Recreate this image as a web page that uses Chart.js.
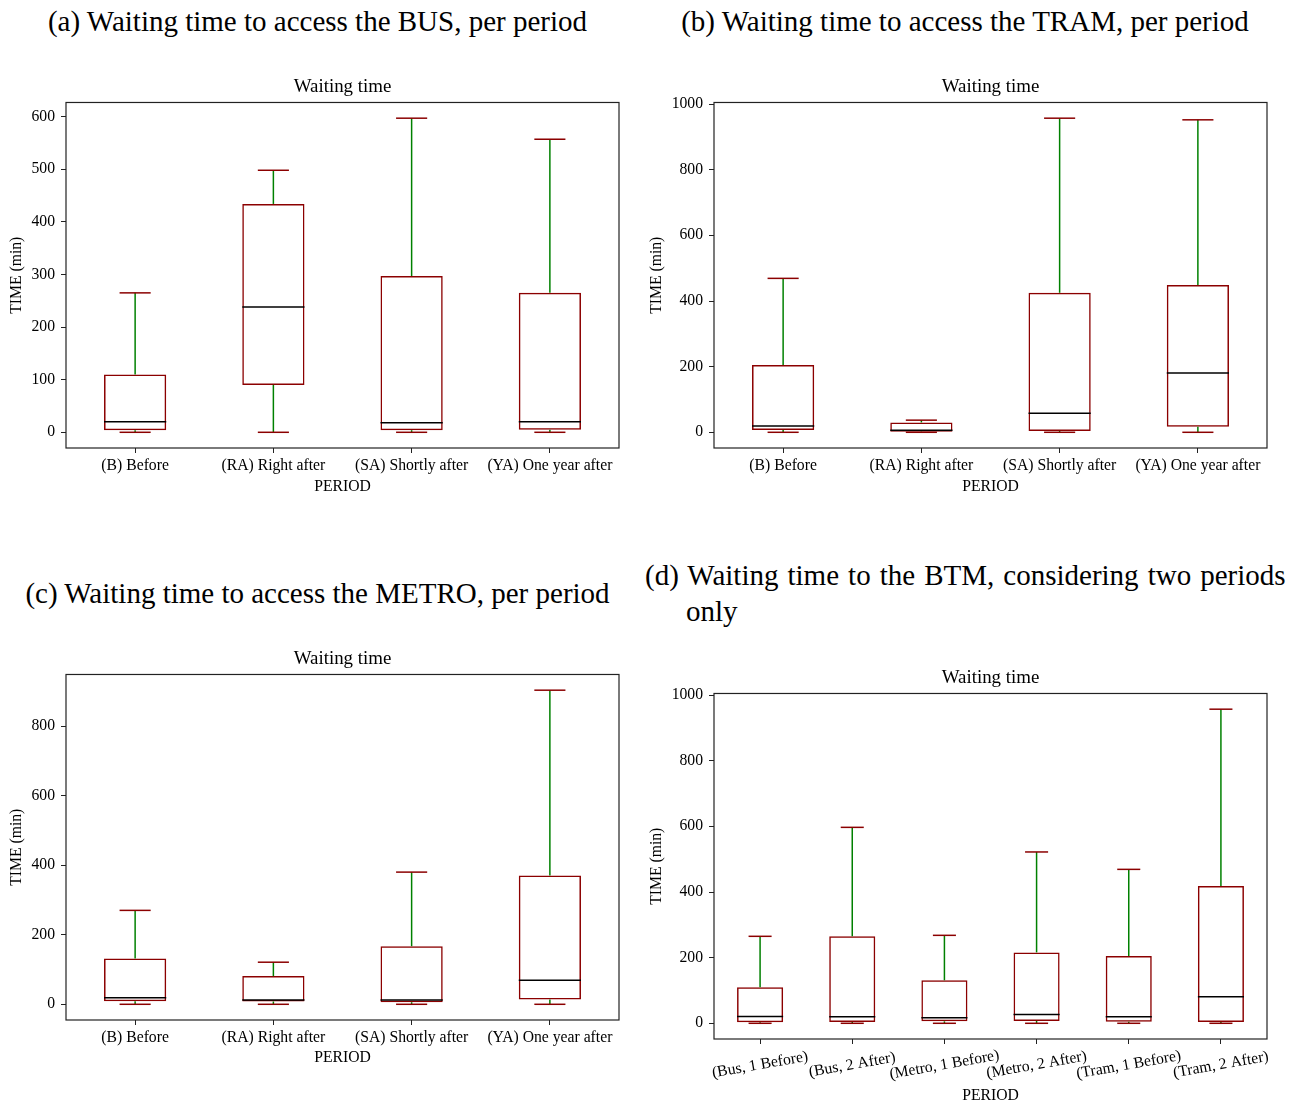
<!DOCTYPE html>
<html>
<head>
<meta charset="utf-8">
<script src="https://cdn.jsdelivr.net/npm/chart.js@4.4.1/dist/chart.umd.min.js"></script>
<style>
  body { margin: 0; background: #fff; width: 1297px; height: 1104px; position: relative; overflow: hidden;
         font-family: 'Liberation Serif', 'Times New Roman', serif; }
  .cap { position: absolute; font-size: 29px; line-height: 36px; white-space: nowrap; color: #000; }
  canvas { position: absolute; }
</style>
</head>
<body>
<div class="cap" style="left:0;width:635px;text-align:center;top:3px">(a) Waiting time to access the BUS, per period</div>
<div class="cap" style="left:640px;width:650px;text-align:center;top:3px">(b) Waiting time to access the TRAM, per period</div>
<div class="cap" style="left:0;width:635px;text-align:center;top:575px">(c) Waiting time to access the METRO, per period</div>
<div class="cap" style="left:645px;top:557px"><span style="word-spacing:1.8px">(d) Waiting time to the BTM, considering two periods</span><br><span style="padding-left:41px">only</span></div>

<canvas id="chart-bus" width="640" height="450" style="left:0;top:60px"></canvas>
<canvas id="chart-tram" width="657" height="450" style="left:640px;top:60px"></canvas>
<canvas id="chart-metro" width="640" height="450" style="left:0;top:632px"></canvas>
<canvas id="chart-btm" width="657" height="453" style="left:640px;top:651px"></canvas>

<script>
// categories
const periodLabels = ['(B) Before', '(RA) Right after', '(SA) Shortly after', '(YA) One year after'];
const btmLabels = ['(Bus, 1 Before)', '(Bus, 2 After)', '(Metro, 1 Before)', '(Metro, 2 After)', '(Tram, 1 Before)', '(Tram, 2 After)'];

// (a) bus
const busLow = [0, 0, 0, 0];
const busQ1 = [4, 90, 4, 5];
const busMed = [20, 238, 18, 20];
const busQ3 = [110, 434, 297, 265];
const busHigh = [265, 498, 597, 557];

// (b) tram
const tramLow = [0, 0, 0, 0];
const tramQ1 = [7, 2, 4, 17];
const tramMed = [19, 6, 58, 181];
const tramQ3 = [205, 30, 425, 449];
const tramHigh = [469, 37, 957, 952];

// (c) metro
const metroLow = [0, 0, 0, 0];
const metroQ1 = [9, 8, 6, 14];
const metroMed = [19, 12, 12, 69];
const metroQ3 = [132, 81, 167, 370];
const metroHigh = [270, 121, 380, 903];

// (d) BTM, two periods
const btmLow = [0, 0, 0, 0, 0, 0];
const btmQ1 = [3, 4, 6, 7, 5, 4];
const btmMed = [21, 20, 17, 27, 20, 81];
const btmQ3 = [110, 265, 131, 216, 205, 418];
const btmHigh = [265, 597, 268, 522, 469, 957];

// tick labels
const busTicks = [0, 100, 200, 300, 400, 500, 600];
const tramTicks = [0, 200, 400, 600, 800, 1000];
const metroTicks = [0, 200, 400, 600, 800];
const btmTicks = [0, 200, 400, 600, 800, 1000];

const FONT = "'Liberation Serif', 'Times New Roman', serif";
const DARKRED = '#8b0000';
const GREEN = '#008000';
Chart.defaults.font.family = FONT;
Chart.defaults.font.size = 15.7;
Chart.defaults.color = '#000';

// whiskers, caps and medians on top of the floating bars
const boxWhiskers = {
  id: 'boxWhiskers',
  afterDatasetsDraw(chart) {
    const ds = chart.data.datasets[0];
    const y = chart.scales.y;
    const ctx = chart.ctx;
    const seg = (x1, y1, x2, y2) => { ctx.beginPath(); ctx.moveTo(x1, y1); ctx.lineTo(x2, y2); ctx.stroke(); };
    ctx.save();
    ctx.lineWidth = 1.5;
    chart.getDatasetMeta(0).data.forEach((bar, i) => {
      const {x, width} = bar.getProps(['x', 'width'], true);
      const pLow = y.getPixelForValue(ds.lows[i]);
      const pQ1 = y.getPixelForValue(ds.data[i][0]);
      const pQ3 = y.getPixelForValue(ds.data[i][1]);
      const pHigh = y.getPixelForValue(ds.highs[i]);
      const pMed = y.getPixelForValue(ds.medians[i]);
      ctx.strokeStyle = GREEN;
      seg(x, pQ1, x, pLow);
      seg(x, pQ3, x, pHigh);
      ctx.strokeStyle = DARKRED;
      seg(x - width / 4, pLow, x + width / 4, pLow);
      seg(x - width / 4, pHigh, x + width / 4, pHigh);
      ctx.strokeStyle = '#000';
      seg(x - width / 2, pMed, x + width / 2, pMed);
    });
    ctx.restore();
  }
};

// full box round the plot area
const frame = {
  id: 'frame',
  afterDatasetsDraw(chart) {
    const a = chart.chartArea;
    const ctx = chart.ctx;
    ctx.save();
    ctx.strokeStyle = '#222';
    ctx.lineWidth = 1.2;
    ctx.strokeRect(a.left, a.top, a.right - a.left, a.bottom - a.top);
    ctx.restore();
  }
};

// centred, slanted category labels (panel d)
const slantedLabels = {
  id: 'slantedLabels',
  afterDraw(chart, args, opts) {
    const xs = chart.scales.x;
    const ctx = chart.ctx;
    ctx.save();
    ctx.font = opts.size + 'px ' + FONT;
    ctx.fillStyle = '#000';
    ctx.textAlign = 'center';
    ctx.textBaseline = 'middle';
    chart.data.labels.forEach((lab, i) => {
      ctx.save();
      ctx.translate(xs.getPixelForTick(i), xs.top + opts.offset);
      ctx.rotate(-opts.angle * Math.PI / 180);
      ctx.fillText(lab, 0, 0);
      ctx.restore();
    });
    ctx.restore();
  }
};

function makeBoxChart(id, labels, lows, q1s, meds, q3s, highs, tickVals, o) {
  const lo = Math.min(...lows), hi = Math.max(...highs);
  const margin = (hi - lo) * 0.05;
  const tickGrid = {display: true, drawOnChartArea: false, drawTicks: true, tickLength: 5, color: '#222', lineWidth: 1};
  return new Chart(document.getElementById(id), {
    type: 'bar',
    data: {
      labels: labels,
      datasets: [{
        data: q1s.map((q, i) => [q, q3s[i]]),
        lows: lows,
        medians: meds,
        highs: highs,
        backgroundColor: 'rgba(0,0,0,0)',
        borderColor: DARKRED,
        borderWidth: 1.5,
        borderSkipped: false,
        barPercentage: o.barPct,
        categoryPercentage: 1
      }]
    },
    options: {
      responsive: false,
      animation: false,
      events: [],
      layout: {padding: {left: 0, right: o.padRight, top: 0, bottom: 0}},
      plugins: {
        legend: {display: false},
        tooltip: {enabled: false},
        title: {display: true, text: 'Waiting time', fullSize: false, font: {size: 18.9, weight: 'normal'},
                padding: {top: 15.5, bottom: 4.3}, color: '#000'},
        slantedLabels: {angle: 10, offset: 26, size: 15.7}
      },
      scales: {
        x: {
          grid: Object.assign({offset: false}, tickGrid),
          border: {display: false},
          ticks: {display: !o.slanted, padding: 3, maxRotation: 0, minRotation: 0, autoSkip: false},
          title: {display: true, text: 'PERIOD', font: {size: 15.7, lineHeight: o.xTitleLH},
                  padding: {top: 0, bottom: o.xTitlePad}},
          afterFit: s => { s.height = o.xAxisH; }
        },
        y: {
          min: lo - margin,
          max: hi + margin,
          grid: tickGrid,
          border: {display: false},
          ticks: {padding: 6, callback: v => String(v)},
          afterBuildTicks: s => { s.ticks = tickVals.map(v => ({value: v})); },
          afterFit: s => { s.width = o.yAxisW; },
          title: {display: true, text: 'TIME (min)', font: {size: 15.7}, padding: {top: 7, bottom: 0}}
        }
      }
    },
    plugins: o.slanted ? [boxWhiskers, frame, slantedLabels] : [boxWhiskers, frame]
  });
}

makeBoxChart('chart-bus', periodLabels, busLow, busQ1, busMed, busQ3, busHigh, busTicks,
  {barPct: 0.45, padRight: 21, yAxisW: 66, xAxisH: 62, xTitlePad: 13.8, xTitleLH: 1.2});
makeBoxChart('chart-tram', periodLabels, tramLow, tramQ1, tramMed, tramQ3, tramHigh, tramTicks,
  {barPct: 0.45, padRight: 30, yAxisW: 74, xAxisH: 62, xTitlePad: 13.8, xTitleLH: 1.2});
makeBoxChart('chart-metro', periodLabels, metroLow, metroQ1, metroMed, metroQ3, metroHigh, metroTicks,
  {barPct: 0.45, padRight: 21, yAxisW: 66, xAxisH: 62, xTitlePad: 14.5, xTitleLH: 1.2});
makeBoxChart('chart-btm', btmLabels, btmLow, btmQ1, btmMed, btmQ3, btmHigh, btmTicks,
  {barPct: 0.5, padRight: 30, yAxisW: 74, xAxisH: 65, xTitlePad: 0, xTitleLH: 1.0, slanted: true});
</script>
</body>
</html>
